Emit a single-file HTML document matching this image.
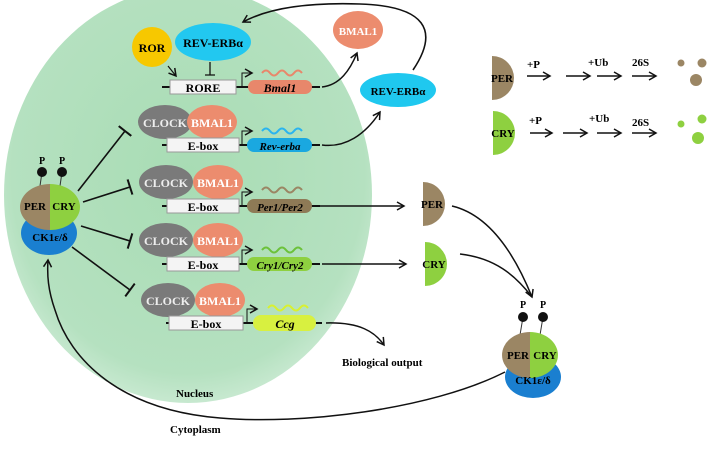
<!DOCTYPE html>
<html><head><meta charset="utf-8"><style>
body{margin:0;background:#fff;width:708px;height:444px;overflow:hidden}
text{font-family:"Liberation Serif",serif;font-weight:bold}
</style></head><body>
<svg width="708" height="444" viewBox="0 0 708 444" xmlns="http://www.w3.org/2000/svg">
<defs>
<radialGradient id="nuc" cx="0.5" cy="0.45" r="0.6"><stop offset="0" stop-color="#a8dcb4"/><stop offset="0.8" stop-color="#b5e1c0"/><stop offset="1" stop-color="#d4eedb"/></radialGradient>
<marker id="ar" markerWidth="10" markerHeight="10" refX="8" refY="5" orient="auto" markerUnits="userSpaceOnUse"><path d="M1,1 L8,5 L1,9" fill="none" stroke="#111" stroke-width="1.5"/></marker>
<marker id="tb" markerWidth="4" markerHeight="16" refX="2" refY="8" orient="auto" markerUnits="userSpaceOnUse"><path d="M2,0 L2,16" stroke="#111" stroke-width="2"/></marker>
</defs>
<ellipse cx="188" cy="195" rx="184" ry="208" fill="url(#nuc)"/>

<!-- top feedback arc -->
<path d="M413,70 C440,30 425,6 360,4 C300,2 265,10 243,22" fill="none" stroke="#111" stroke-width="1.6" marker-end="url(#ar)"/>

<!-- ROR / REV -->
<circle cx="152" cy="47" r="20" fill="#f7c800"/><text x="152" y="52" font-size="12" text-anchor="middle">ROR</text>
<ellipse cx="213" cy="42" rx="38" ry="19" fill="#22c8f0"/><text x="213" y="47" font-size="12" text-anchor="middle">REV-ERBα</text>
<path d="M168,66 L176,76" stroke="#111" stroke-width="1.2" marker-end="url(#ar)"/>
<path d="M210,62 L210,75 M205,75 L215,75" stroke="#111" stroke-width="1.3"/>

<!-- RORE row -->
<line x1="162" y1="87" x2="320" y2="87" stroke="#111" stroke-width="2"/>
<rect x="170" y="80" width="66" height="14" fill="#f4f4f4" stroke="#999"/>
<text x="203" y="92" font-size="12" text-anchor="middle">RORE</text>
<path d="M242,87 V73 H252" fill="none" stroke="#111" marker-end="url(#ar)"/>
<rect x="248" y="80" width="64" height="14" rx="7" fill="#e8876b"/><text x="280" y="92" font-size="12" text-anchor="middle" font-style="italic">Bmal1</text>
<path d="M262,73 q4,-5 8,0 t8,0 t8,0 t8,0 t8,0" fill="none" stroke="#e8876b" stroke-width="2"/>
<path d="M322,87 C340,85 350,70 357,53" fill="none" stroke="#111" stroke-width="1.5" marker-end="url(#ar)"/>
<ellipse cx="358" cy="30" rx="25" ry="19" fill="#ec8c6e"/><text x="358" y="35" font-size="11" fill="#fff" text-anchor="middle">BMAL1</text>
<ellipse cx="398" cy="90" rx="38" ry="17" fill="#1fc8ef"/><text x="398" y="95" font-size="11" text-anchor="middle">REV-ERBα</text>

<!-- E-box rows -->
<g id="rows">
<g>
<ellipse cx="165" cy="122" rx="27" ry="17" fill="#7a7a7a"/><ellipse cx="212" cy="122" rx="25" ry="17" fill="#ec8c6e"/>
<text x="165" y="127" font-size="12" fill="#eee" text-anchor="middle">CLOCK</text><text x="212" y="127" font-size="12" fill="#fff" text-anchor="middle">BMAL1</text>
<line x1="162" y1="145" x2="320" y2="145" stroke="#111" stroke-width="2"/>
<rect x="167" y="138" width="72" height="14" fill="#f4f4f4" stroke="#999"/><text x="203" y="150" font-size="12" text-anchor="middle">E-box</text>
<path d="M242,145 V131 H252" fill="none" stroke="#111" marker-end="url(#ar)"/>
<rect x="247" y="138" width="65" height="14" rx="7" fill="#1aa8e0"/><text x="280" y="150" font-size="11" text-anchor="middle" font-style="italic">Rev-erba</text>
<path d="M262,131 q4,-5 8,0 t8,0 t8,0 t8,0 t8,0" fill="none" stroke="#2ab4ef" stroke-width="2"/>
</g>
<g>
<ellipse cx="166" cy="182" rx="27" ry="17" fill="#7a7a7a"/><ellipse cx="218" cy="182" rx="25" ry="17" fill="#ec8c6e"/>
<text x="166" y="187" font-size="12" fill="#eee" text-anchor="middle">CLOCK</text><text x="218" y="187" font-size="12" fill="#fff" text-anchor="middle">BMAL1</text>
<line x1="162" y1="206" x2="320" y2="206" stroke="#111" stroke-width="2"/>
<rect x="167" y="199" width="72" height="14" fill="#f4f4f4" stroke="#999"/><text x="203" y="211" font-size="12" text-anchor="middle">E-box</text>
<path d="M242,206 V192 H252" fill="none" stroke="#111" marker-end="url(#ar)"/>
<rect x="247" y="199" width="65" height="14" rx="7" fill="#8e7a56"/><text x="280" y="211" font-size="11" text-anchor="middle" font-style="italic">Per1/Per2</text>
<path d="M262,190 q4,-5 8,0 t8,0 t8,0 t8,0 t8,0" fill="none" stroke="#9b8664" stroke-width="2"/>
</g>
<g>
<ellipse cx="166" cy="240" rx="27" ry="17" fill="#7a7a7a"/><ellipse cx="218" cy="240" rx="25" ry="17" fill="#ec8c6e"/>
<text x="166" y="245" font-size="12" fill="#eee" text-anchor="middle">CLOCK</text><text x="218" y="245" font-size="12" fill="#fff" text-anchor="middle">BMAL1</text>
<line x1="162" y1="264" x2="320" y2="264" stroke="#111" stroke-width="2"/>
<rect x="167" y="257" width="72" height="14" fill="#f4f4f4" stroke="#999"/><text x="203" y="269" font-size="12" text-anchor="middle">E-box</text>
<path d="M242,264 V250 H252" fill="none" stroke="#111" marker-end="url(#ar)"/>
<rect x="247" y="257" width="65" height="14" rx="7" fill="#8ed040"/><text x="280" y="269" font-size="11" text-anchor="middle" font-style="italic">Cry1/Cry2</text>
<path d="M262,250 q4,-5 8,0 t8,0 t8,0 t8,0 t8,0" fill="none" stroke="#6cc23a" stroke-width="2"/>
</g>
<g>
<ellipse cx="168" cy="300" rx="27" ry="17" fill="#7a7a7a"/><ellipse cx="220" cy="300" rx="25" ry="17" fill="#ec8c6e"/>
<text x="168" y="305" font-size="12" fill="#eee" text-anchor="middle">CLOCK</text><text x="220" y="305" font-size="12" fill="#fff" text-anchor="middle">BMAL1</text>
<line x1="166" y1="323" x2="322" y2="323" stroke="#111" stroke-width="2"/>
<rect x="169" y="316" width="74" height="14" fill="#f4f4f4" stroke="#999"/><text x="206" y="328" font-size="12" text-anchor="middle">E-box</text>
<path d="M247,323 V309 H257" fill="none" stroke="#111" marker-end="url(#ar)"/>
<rect x="253" y="315" width="63" height="16" rx="8" fill="#d8f040"/><text x="285" y="328" font-size="12" text-anchor="middle" font-style="italic">Ccg</text>
<path d="M268,308 q4,-5 8,0 t8,0 t8,0 t8,0 t8,0" fill="none" stroke="#d8f030" stroke-width="2"/>
</g>
</g>

<!-- gene outputs -->
<path d="M322,145 C345,148 365,135 380,112" fill="none" stroke="#111" stroke-width="1.5" marker-end="url(#ar)"/>
<path d="M320,206 L404,206" stroke="#111" stroke-width="1.5" marker-end="url(#ar)"/>
<path d="M322,264 L406,264" stroke="#111" stroke-width="1.5" marker-end="url(#ar)"/>
<path d="M326,323 C360,322 375,332 384,345" fill="none" stroke="#111" stroke-width="1.5" marker-end="url(#ar)"/>
<text x="342" y="366" font-size="11">Biological output</text>

<!-- PER / CRY halves middle -->
<path d="M423,182 a22,22 0 0 1 0,44 z" fill="#9b8664"/><text x="432" y="208" font-size="11" text-anchor="middle">PER</text>
<path d="M425,242 a22,22 0 0 1 0,44 z" fill="#8ed040"/><text x="434" y="268" font-size="11" text-anchor="middle">CRY</text>
<path d="M452,206 C490,215 515,255 532,297" fill="none" stroke="#111" stroke-width="1.5" marker-end="url(#ar)"/>
<path d="M460,254 C495,258 515,275 532,297" fill="none" stroke="#111" stroke-width="1.5"/>

<!-- complex right -->
<g>
<line x1="523" y1="317" x2="520" y2="335" stroke="#333"/><line x1="543" y1="317" x2="540" y2="335" stroke="#333"/>
<circle cx="523" cy="317" r="5" fill="#111"/><circle cx="543" cy="317" r="5" fill="#111"/>
<text x="523" y="308" font-size="10" text-anchor="middle">P</text><text x="543" y="308" font-size="10" text-anchor="middle">P</text>
<ellipse cx="533" cy="377" rx="28" ry="21" fill="#1a7fd0"/>
<path d="M530,332 a28,23 0 0 0 0,46 z" fill="#9b8664"/><path d="M530,332 a28,23 0 0 1 0,46 z" fill="#8ed040"/>
<text x="518" y="359" font-size="11" text-anchor="middle">PER</text><text x="545" y="359" font-size="11" text-anchor="middle">CRY</text>
<text x="533" y="384" font-size="11" text-anchor="middle">CK1ε/δ</text>
</g>

<!-- complex left -->
<g>
<line x1="42" y1="172" x2="40" y2="186" stroke="#333"/><line x1="62" y1="172" x2="60" y2="186" stroke="#333"/>
<circle cx="42" cy="172" r="5" fill="#111"/><circle cx="62" cy="172" r="5" fill="#111"/>
<text x="42" y="164" font-size="10" text-anchor="middle">P</text><text x="62" y="164" font-size="10" text-anchor="middle">P</text>
<ellipse cx="49" cy="233" rx="28" ry="22" fill="#1a7fd0"/>
<path d="M50,184 a30,23 0 0 0 0,46 z" fill="#9b8664"/><path d="M50,184 a30,23 0 0 1 0,46 z" fill="#8ed040"/>
<text x="35" y="210" font-size="11" text-anchor="middle">PER</text><text x="64" y="210" font-size="11" text-anchor="middle">CRY</text>
<text x="50" y="241" font-size="11" text-anchor="middle">CK1ε/δ</text>
</g>
<path d="M78,191 L125,131" stroke="#111" stroke-width="1.6" marker-end="url(#tb)"/>
<path d="M83,202 L130,187" stroke="#111" stroke-width="1.6" marker-end="url(#tb)"/>
<path d="M81,226 L130,241" stroke="#111" stroke-width="1.6" marker-end="url(#tb)"/>
<path d="M72,247 L130,290" stroke="#111" stroke-width="1.6" marker-end="url(#tb)"/>

<!-- long return arrow -->
<path d="M505,372 C430,410 300,425 220,418 C120,410 70,360 55,310 C48,290 47,275 48,260" fill="none" stroke="#111" stroke-width="1.5" marker-end="url(#ar)"/>

<text x="176" y="397" font-size="11">Nucleus</text>
<text x="170" y="433" font-size="11">Cytoplasm</text>

<!-- top right degradation -->
<path d="M492,56 a22,22 0 0 1 0,44 z" fill="#9b8664"/><text x="502" y="82" font-size="11" text-anchor="middle">PER</text>
<path d="M493,111 a22,22 0 0 1 0,44 z" fill="#8ed040"/><text x="503" y="137" font-size="11" text-anchor="middle">CRY</text>
<g stroke="#111" stroke-width="1.5">
<path d="M527,76 H550" marker-end="url(#ar)"/><path d="M566,76 H590" marker-end="url(#ar)"/><path d="M597,76 H621" marker-end="url(#ar)"/><path d="M632,76 H656" marker-end="url(#ar)"/>
<path d="M530,133 H552" marker-end="url(#ar)"/><path d="M563,133 H587" marker-end="url(#ar)"/><path d="M597,133 H621" marker-end="url(#ar)"/><path d="M632,133 H656" marker-end="url(#ar)"/>
</g>
<text x="527" y="68" font-size="11">+P</text><text x="588" y="66" font-size="11">+Ub</text><text x="632" y="66" font-size="11">26S</text>
<text x="529" y="124" font-size="11">+P</text><text x="589" y="122" font-size="11">+Ub</text><text x="632" y="126" font-size="11">26S</text>
<circle cx="681" cy="63" r="3.5" fill="#9b8664"/><circle cx="702" cy="63" r="4.5" fill="#9b8664"/><circle cx="696" cy="80" r="6" fill="#9b8664"/>
<circle cx="681" cy="124" r="3.5" fill="#8ed040"/><circle cx="702" cy="119" r="4.5" fill="#8ed040"/><circle cx="698" cy="138" r="6" fill="#8ed040"/>
</svg>
</body></html>
